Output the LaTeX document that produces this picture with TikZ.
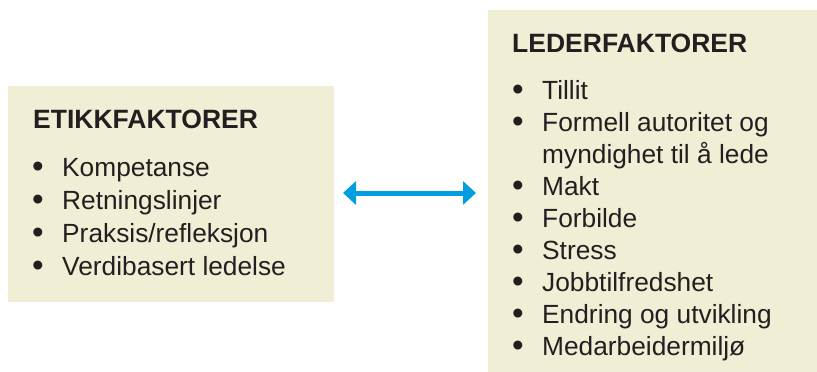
\documentclass[tikz,border=0pt]{standalone}
\usepackage{fontspec}
\setmainfont{Liberation Sans}
\usetikzlibrary{arrows.meta}
\definecolor{boxfill}{HTML}{F1EED6}
\definecolor{txt}{HTML}{231F20}
\definecolor{arrowblue}{HTML}{009EE0}
\tikzset{
  panel/.style={fill=boxfill, draw=none, inner sep=0pt, anchor=north west},
  title/.style={anchor=base west, inner sep=0pt, text=txt, font=\fontsize{26.5}{30}\selectfont\bfseries},
  item/.style={anchor=base west, inner sep=0pt, text=txt, font=\fontsize{26.3}{30}\selectfont},
  bul/.style={anchor=base, inner sep=0pt, text=txt, font=\fontsize{33}{36}\selectfont},
  link/.style={arrowblue, line width=5pt, {Triangle[width=23pt,length=13pt]}-{Triangle[width=23pt,length=13pt]}}
}
\begin{document}
\begin{tikzpicture}[x=1pt,y=-1pt]
\useasboundingbox (0,0) rectangle (817,372);
% boxes
\node[panel, minimum width=326pt, minimum height=216pt] (etikk) at (8,86) {};
\node[panel, minimum width=329pt, minimum height=362pt] (leder) at (488,10) {};
% left box
\node[title] (t1) at (33,128) {ETIKKFAKTORER};
\foreach \txt [count=\i from 0] in {Kompetanse, Retningslinjer, Praksis/refleksjon, Verdibasert ledelse}{
  \node[bul] (lb\i) at (38,177+33*\i) {•};
  \node[item] (li\i) at (62,176+33*\i) {\txt};
}
% right box
\node[title] (t2) at (512,52) {LEDERFAKTORER};
\foreach \txt/\b [count=\i from 0] in {Tillit/1, Formell autoritet og/1, myndighet til å lede/0, Makt/1, Forbilde/1, Stress/1, Jobbtilfredshet/1, Endring og utvikling/1, Medarbeidermiljø/1}{
  \ifnum\b=1 \node[bul] (rb\i) at (518,100+32*\i) {•};\fi
  \node[item] (ri\i) at (542,99+32*\i) {\txt};
}
% arrow
\coordinate (a1) at (343,193);
\coordinate (a2) at (476,193);
\draw[link] (a1) -- (a2);
\end{tikzpicture}
\end{document}
